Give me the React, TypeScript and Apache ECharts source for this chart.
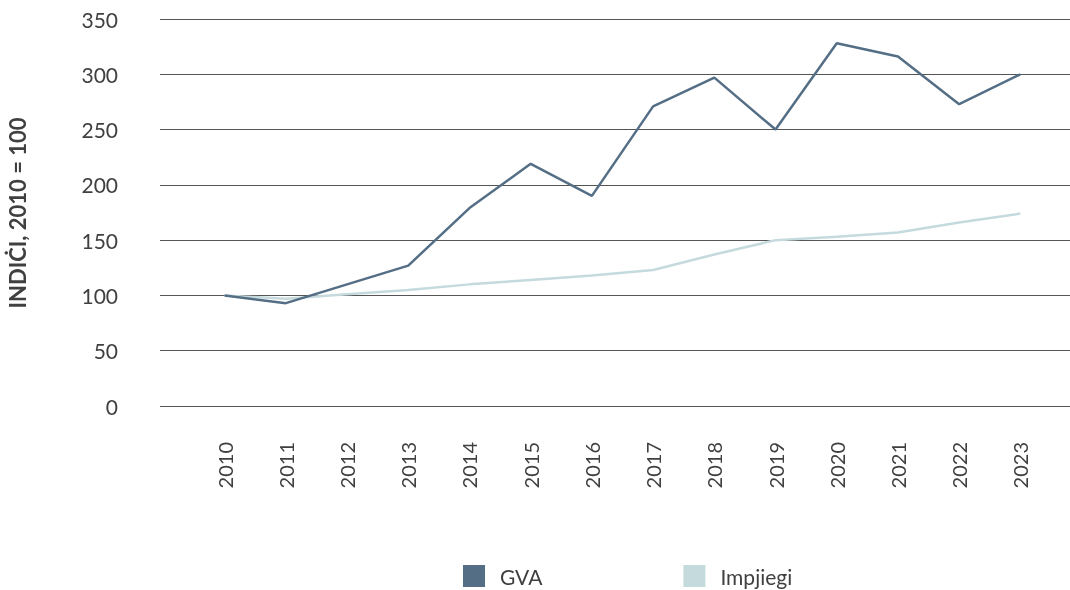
import React, { useEffect, useRef } from "react";
import * as echarts from "echarts";

const years = ["2010", "2011", "2012", "2013", "2014", "2015", "2016", "2017", "2018", "2019", "2020", "2021", "2022", "2023"];
const gva = [100, 93, 110, 127, 179, 219, 190, 271, 297, 250, 328, 316, 273, 300];
const impjiegi = [100, 97, 101, 105, 110, 114, 118, 123, 137, 150, 153, 157, 166, 174];
const yTicks = [0, 50, 100, 150, 200, 250, 300, 350];

const FONT = "Lato, 'Noto Sans', sans-serif";

export default function App() {
  const ref = useRef<HTMLDivElement>(null);
  useEffect(() => {
    if (!ref.current) return;
    const chart = echarts.init(ref.current, undefined, { renderer: "svg" });
    chart.setOption({
      animation: false,
      textStyle: { fontFamily: FONT },
      grid: [
        { left: 160, right: 0, top: 19, bottom: 184 },
        { left: 194, right: 19, top: 19, bottom: 184 },
      ],
      xAxis: [
        { gridIndex: 0, type: "value", min: 0, max: 1, show: false },
        {
          gridIndex: 1,
          type: "category",
          data: years,
          boundaryGap: true,
          axisLine: { show: false },
          axisTick: { show: false },
          axisLabel: { rotate: 90, margin: 36, fontSize: 20, color: "#404040", fontFamily: FONT },
        },
      ],
      yAxis: [
        {
          gridIndex: 0,
          type: "value",
          min: 0,
          max: 350,
          interval: 50,
          axisLine: { show: false },
          axisTick: { show: false },
          axisLabel: {
            margin: 42,
            fontSize: 21,
            color: "#404040",
            fontFamily: FONT,
            formatter: (v: number) => (yTicks.includes(v) ? String(v) : ""),
          },
          splitLine: { lineStyle: { color: "#555555", width: 1 } },
        },
        { gridIndex: 1, type: "value", min: 0, max: 350, interval: 50, show: false, splitLine: { show: false } },
      ],
      legend: {
        left: 463,
        top: 565,
        padding: 0,
        icon: "rect",
        itemWidth: 22,
        itemHeight: 22,
        itemGap: 141,
        textStyle: { fontSize: 21, color: "#404040", fontFamily: FONT, padding: [0, 0, 0, 10] },
        data: ["GVA", "Impjiegi"],
      },
      graphic: [
        {
          type: "text",
          x: 17,
          y: 213,
          rotation: Math.PI / 2,
          style: {
            text: "INDIĊI, 2010 = 100",
            fontSize: 22,
            fontWeight: 700,
            fill: "#404040",
            fontFamily: FONT,
            textAlign: "center",
            textVerticalAlign: "middle",
          },
        },
      ],
      series: [
        {
          name: "Impjiegi",
          type: "line",
          xAxisIndex: 1,
          yAxisIndex: 1,
          data: impjiegi,
          symbol: "none",
          color: "#c5dadd",
          lineStyle: { width: 2.5, color: "#c5dadd" },
        },
        {
          name: "GVA",
          type: "line",
          xAxisIndex: 1,
          yAxisIndex: 1,
          data: gva,
          symbol: "none",
          color: "#546e85",
          lineStyle: { width: 2.5, color: "#546e85" },
        },
      ],
    });
    return () => chart.dispose();
  }, []);
  return <div ref={ref} style={{ position: "fixed", left: 0, top: 0, width: 1070, height: 590 }} />;
}
